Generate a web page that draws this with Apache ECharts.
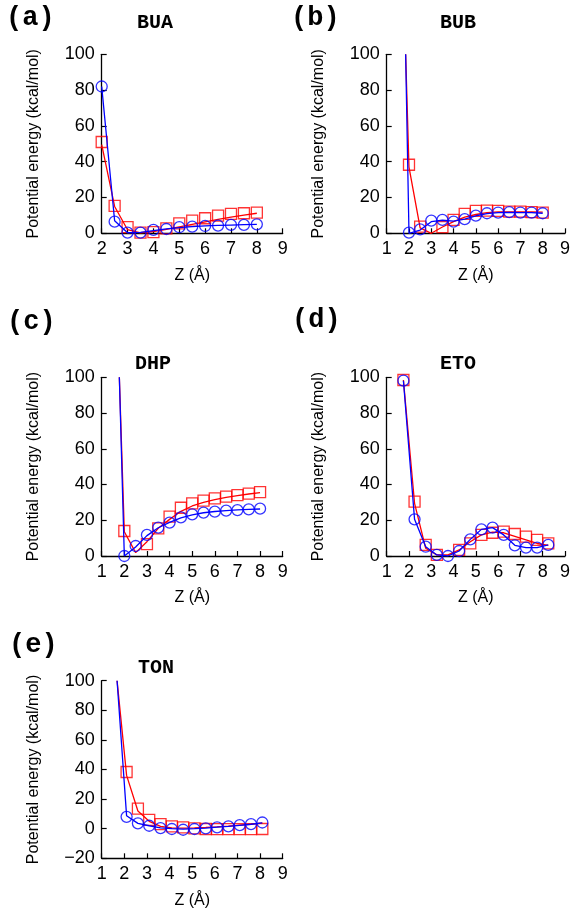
<!DOCTYPE html>
<html><head><meta charset="utf-8">
<script src="https://cdn.jsdelivr.net/npm/echarts@6/dist/echarts.min.js"></script>
<style>html,body{margin:0;padding:0;background:#fff}#c{width:573px;height:911px}</style>
</head><body><div id="c"></div>
<script>
// Panel (a) BUA
const aX = [2,2.5,3,3.5,4,4.5,5,5.5,6,6.5,7,7.5,8];
const aRedPts = [51,15.3,3.4,0.4,0.7,2.8,5.6,7.1,8.4,9.9,10.8,11.2,11.6];
const aBluePts = [82,6.5,0.4,0.4,1.9,2.4,3.4,3.7,4.1,4.3,4.7,4.7,5.0];
const aLineX = [2,2.5,3,3.5,4,4.5,5,5.5,6,6.5,7,7.5,8];
const aRedLine = [49.5,15,2,0.3,1.0,2.2,3.6,5.0,6.4,7.8,9.0,10.1,11.2];
const aBlueLine = [82,7,0.3,0.5,1.5,2.5,3.2,3.7,4.1,4.4,4.6,4.8,5.0];
// Panel (b) BUB
const bX = [2,2.5,3,3.5,4,4.5,5,5.5,6,6.5,7,7.5,8];
const bRedPts = [38.3,3.7,-0.6,3.4,7.5,10.8,12.5,12.7,12.5,12.1,12.1,11.8,11.6];
const bBluePts = [0.4,2.2,7.1,7.5,6.5,7.9,9.9,11.2,11.6,11.8,11.6,11.6,11.2];
const bLineX = [1.85,2,2.5,3,3.5,4,4.5,5,5.5,6,6.5,7,7.5,8];
const bRedLine = [100,37,3,0,3.5,6.5,9,10.5,11.5,12,12,12,12,11.8];
const bBlueLine = [100,0,1.8,6.5,7.3,6.8,7.9,9.8,11,11.5,11.7,11.6,11.5,11.2];
// Panel (c) DHP
const cX = [2,2.5,3,3.5,4,4.5,5,5.5,6,6.5,7,7.5,8];
const cRedPts = [14,-0.7,6.7,15.5,22,27,29.5,31,32.3,33.2,34.1,34.9,35.8];
const cBluePts = [0,5.6,11.8,15.9,18.7,21.6,23.3,24.3,24.8,25.4,25.7,26.1,26.5];
const cLineX = [1.78,2,2.5,3,3.5,4,4.5,5,5.5,6,6.5,7,7.5,8];
const cRedLine = [100,13.6,1.9,8,15.5,20.5,25,28,30,31.5,32.8,33.8,34.7,35.5];
const cBlueLine = [100,0,5,11.4,15.8,18.8,21.3,23,24.2,24.9,25.4,25.8,26.1,26.3];
// Panel (d) ETO
const dX = [1.75,2.25,2.75,3.25,3.75,4.25,4.75,5.25,5.75,6.25,6.75,7.25,7.75,8.25];
const dRedPts = [98.5,30.4,6.2,0.6,-0.4,3.4,7.1,11.8,13,13.6,12.3,10.8,9,7.1];
const dBluePts = [98.1,20.5,5.2,0.6,0,2.8,9.3,14.9,15.9,11.8,6,4.7,4.7,6.2];
const dLineX = [1.75,2.25,2.75,3.25,3.75,4.25,4.75,5.25,5.75,6.25,6.75,7.25,7.75,8.25];
const dRedLine = [98.5,29.5,4.3,0.6,0.6,3.4,8,11.8,13.4,13,11,9,7,6];
const dBlueLine = [98.1,20.5,5.2,0.6,0,2.8,9.3,14.9,15.9,11.8,6,4.7,4.7,6.2];
// Panel (e) TON
const eX = [2.1,2.6,3.1,3.6,4.1,4.6,5.1,5.6,6.1,6.6,7.1,7.6,8.1];
const eRedPts = [38.3,13.6,6,3.1,1.6,0.9,0.2,-0.2,-0.3,-0.3,-0.3,-0.3,-0.2];
const eBluePts = [8,3.6,2,0.4,-0.2,-0.7,-0.2,0.2,0.9,1.6,2.4,3.1,4.2];
const eLineX = [1.68,2.1,2.6,3.1,3.6,4.1,4.6,5.1,5.6,6.1,6.6,7.1,7.6,8.1];
const eRedLine = [100,36,12,5,1.6,0.5,0.4,0.6,0.9,1.3,1.8,2.4,3.0,3.8];
const eBlueLine = [100,8.7,3.6,2,0.6,0,-0.3,0,0.4,1,1.6,2.3,3.0,4.0];

const panelLabels = ['(a)','(b)','(c)','(d)','(e)'];
const panelTitles = ['BUA','BUB','DHP','ETO','TON'];
const xMins = [2,1,1,1,1];
const yMins = [0,0,0,0,-20];

const panels = [
  {x:aX, r:aRedPts, b:aBluePts, lx:aLineX, lr:aRedLine, lb:aBlueLine},
  {x:bX, r:bRedPts, b:bBluePts, lx:bLineX, lr:bRedLine, lb:bBlueLine},
  {x:cX, r:cRedPts, b:cBluePts, lx:cLineX, lr:cRedLine, lb:cBlueLine},
  {x:dX, r:dRedPts, b:dBluePts, lx:dLineX, lr:dRedLine, lb:dBlueLine},
  {x:eX, r:eRedPts, b:eBluePts, lx:eLineX, lr:eRedLine, lb:eBlueLine}
];

// layout
const grids = [
  {left:101.7, top:54.3, width:181, height:179},
  {left:386.7, top:54.3, width:181, height:179},
  {left:101.7, top:377.3, width:181, height:178.7},
  {left:386.7, top:377.3, width:181, height:178.7},
  {left:101.7, top:680.7, width:181, height:177.6}
];
const labelPos = [[6,5],[291,5],[7,309],[292,307],[9,632]];
const titlePos = [[155,13],[458,13],[153,354],[458,354],[156,658]];

const RED = '#ff0000', BLUE = '#0000ff';
const zip = (xs, ys) => xs.map((v,i)=>[v, ys[i]]);
const minus = v => String(v).replace('-', '\u2212');

const title = [], xAxis = [], yAxis = [], series = [];
panels.forEach((p,i)=>{
  title.push({text: panelLabels[i], left: labelPos[i][0], top: labelPos[i][1], padding:0,
    textStyle:{fontFamily:'Liberation Mono', fontWeight:'bold', fontSize:27, color:'#000'}});
  title.push({text: panelTitles[i], left: titlePos[i][0], top: titlePos[i][1], textAlign:'center', padding:0,
    textStyle:{fontFamily:'Liberation Mono', fontWeight:'bold', fontSize:20, color:'#000'}});
  const axisCommon = {
    axisLine:{show:true, onZero:false, lineStyle:{color:'#000', width:1.3}},
    axisTick:{show:true, inside:true, length:5, lineStyle:{color:'#000', width:1.2}},
    splitLine:{show:false},
    nameTextStyle:{fontFamily:'Liberation Sans', fontSize:16, color:'#000'}
  };
  xAxis.push(Object.assign({type:'value', gridIndex:i, min:xMins[i], max:9, interval:1,
    name:'Z (Å)', nameLocation:'middle', nameGap:34}, axisCommon,
    {axisLabel:{fontFamily:'Liberation Sans', fontSize:18, color:'#000', margin:7}}));
  yAxis.push(Object.assign({type:'value', gridIndex:i, min:yMins[i], max:100, interval:20,
    name:'Potential energy (kcal/mol)', nameLocation:'middle', nameGap:60}, axisCommon,
    {axisLabel:{fontFamily:'Liberation Sans', fontSize:18, color:'#000', margin:7, formatter:minus}}));
  series.push({type:'line', xAxisIndex:i, yAxisIndex:i, data:zip(p.lx,p.lr), showSymbol:false,
    lineStyle:{color:RED, width:1.3}, silent:true, animation:false, z:2});
  series.push({type:'scatter', xAxisIndex:i, yAxisIndex:i, data:zip(p.x,p.r), symbol:'rect', symbolSize:11,
    itemStyle:{color:'rgba(0,0,0,0)', borderColor:RED, borderWidth:1.3}, animation:false, z:3});
  series.push({type:'line', xAxisIndex:i, yAxisIndex:i, data:zip(p.lx,p.lb), showSymbol:false,
    lineStyle:{color:BLUE, width:1.3}, silent:true, animation:false, z:4});
  series.push({type:'scatter', xAxisIndex:i, yAxisIndex:i, data:zip(p.x,p.b), symbol:'circle', symbolSize:11,
    itemStyle:{color:'rgba(0,0,0,0)', borderColor:BLUE, borderWidth:1.3}, animation:false, z:5});
});

const chart = echarts.init(document.getElementById('c'), null, {renderer:'canvas'});
chart.setOption({backgroundColor:'#fff', animation:false, title, grid:grids, xAxis, yAxis, series});
</script></body></html>
